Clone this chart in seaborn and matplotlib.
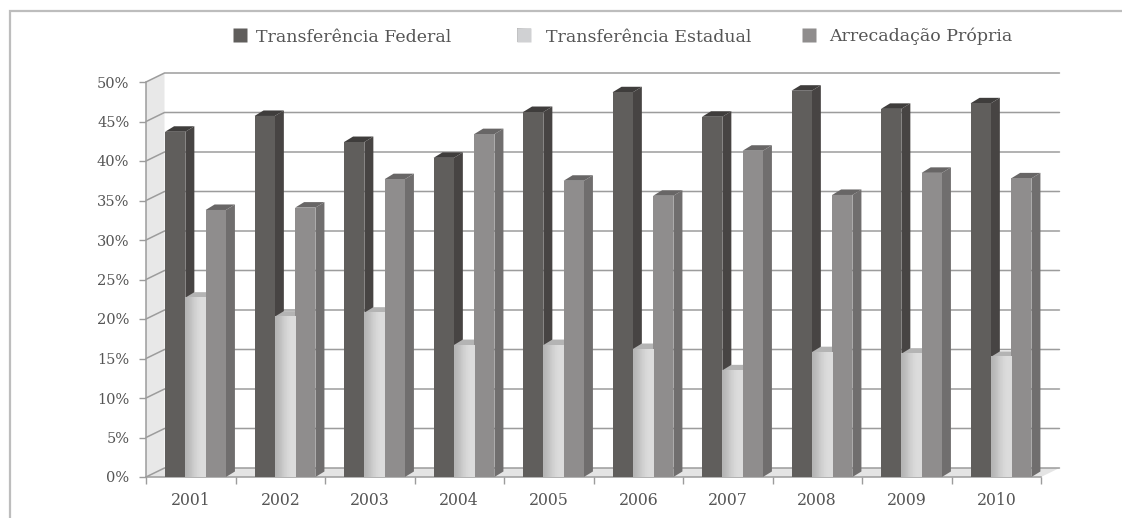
import numpy as np
import pandas as pd
import matplotlib
matplotlib.use('Agg')
import matplotlib.pyplot as plt
from matplotlib.lines import Line2D
from matplotlib.patches import Polygon
import seaborn as sns

# Values (percent)
years = ['2001', '2002', '2003', '2004', '2005', '2006', '2007', '2008', '2009', '2010']
federal = [43.7, 45.7, 42.4, 40.4, 46.2, 48.7, 45.6, 48.9, 46.6, 47.3]
estadual = [22.7, 20.3, 20.8, 16.7, 16.7, 16.2, 13.5, 15.8, 15.6, 15.2]
propria = [33.8, 34.1, 37.7, 43.4, 37.5, 35.6, 41.3, 35.7, 38.5, 37.8]
series_names = ['Transferência Federal', 'Transferência Estadual', 'Arrecadação Própria']
y_ticks = [0, 5, 10, 15, 20, 25, 30, 35, 40, 45, 50]

front_colors = ['#605e5c', '#d0d1d3', '#8f8d8d']
side_colors = ['#474443', '#8a8a8a', '#706e6e']
top_colors = ['#3f3d3c', '#b4b4b4', '#686666']
grid_color = '#9c9c9c'
text_color = '#555555'

sns.set_theme(style='white')
plt.rcParams['font.family'] = ['DejaVu Serif']

data = pd.DataFrame({'Ano': years, series_names[0]: federal,
                     series_names[1]: estadual, series_names[2]: propria})
data = data.melt(id_vars='Ano', var_name='Serie', value_name='Valor')

W, H = 1122, 518
fig = plt.figure(figsize=(W / 100, H / 100), dpi=100)
ax = fig.add_axes([146 / W, 1 - 477 / H, 895 / W, 395 / H])
ax.patch.set_alpha(0)

sns.barplot(data=data, x='Ano', y='Valor', hue='Serie', palette=front_colors,
            saturation=1, width=0.68, dodge=True, gap=0, linewidth=0, ax=ax, zorder=4)

x0 = -0.553
x1 = 9.447
ax.set_xlim(x0, x1)
ax.set_ylim(0, 50)
px = 10 / 895  # data units per pixel, x
py = 50 / 395  # data units per pixel, y

# walls and floor
wall_dx, wall_dy = 18.5 * px, 9 * py
ax.add_patch(Polygon([(x0, 0), (x0 + wall_dx, wall_dy), (x0 + wall_dx, 50 + wall_dy), (x0, 50)],
                     closed=True, fc='#e8e8e8', ec='none', clip_on=False, zorder=1))
ax.add_patch(Polygon([(x0, 0), (x1, 0), (x1 + wall_dx, wall_dy), (x0 + wall_dx, wall_dy)],
                     closed=True, fc='#e4e4e4', ec='none', clip_on=False, zorder=1))
for t in y_ticks:
    ax.plot([x0, x0 + wall_dx, x1 + wall_dx], [t, t + wall_dy, t + wall_dy], color=grid_color,
            lw=1.1, clip_on=False, zorder=2, solid_joinstyle='miter')

# depth of each bar
bar_dx, bar_dy = 9 * px, 5.5 * py
for container, side, top in zip(ax.containers, side_colors, top_colors):
    for bar in container:
        bx, w, h = bar.get_x(), bar.get_width(), bar.get_height()
        ax.add_patch(Polygon([(bx + w, 0), (bx + w + bar_dx, bar_dy), (bx + w + bar_dx, h + bar_dy), (bx + w, h)],
                             closed=True, fc=side, ec='none', clip_on=False, zorder=3))
        ax.add_patch(Polygon([(bx, h), (bx + bar_dx, h + bar_dy), (bx + w + bar_dx, h + bar_dy), (bx + w, h)],
                             closed=True, fc=top, ec='none', clip_on=False, zorder=3))

# gradient on the middle series
gradient = np.array([[0.71, 0.75, 0.80, 0.84, 0.86, 0.86]])
for bar in ax.containers[1]:
    bx, w, h = bar.get_x(), bar.get_width(), bar.get_height()
    ax.imshow(gradient, extent=(bx, bx + w, 0, h), cmap='gray', vmin=0, vmax=1,
              aspect='auto', interpolation='bilinear', zorder=5)
ax.set_xlim(x0, x1)
ax.set_ylim(0, 50)

# axes
sns.despine(ax=ax, top=True, right=True)
ax.spines['left'].set_color(grid_color)
ax.spines['bottom'].set_color(grid_color)
ax.spines['left'].set_linewidth(1.1)
ax.spines['bottom'].set_linewidth(1.1)
ax.set_xlabel('')
ax.set_ylabel('')
ax.set_xticks([i - 0.053 for i in range(10)], years)
ax.set_xticks([x0 + i for i in range(11)], minor=True)
ax.tick_params(axis='x', which='major', length=0, pad=10.5, labelsize=11.3, labelcolor=text_color)
ax.tick_params(axis='x', which='minor', length=5, width=1, color=grid_color, bottom=True)
ax.set_yticks(y_ticks, [f'{t}%' for t in y_ticks])
ax.tick_params(axis='y', length=5, width=1, color=grid_color, pad=7, labelsize=10.5,
               labelcolor=text_color, left=True)

# legend, one entry at a time because the gaps differ
if ax.get_legend() is not None:
    ax.get_legend().remove()
legend_x = [231.5, 515, 800]
legend_y = [37, 37, 36]
legend_pad = [0.4, 0.8, 0.69]
for name, color, lx, ly, pad in zip(series_names, front_colors, legend_x, legend_y, legend_pad):
    handle = Line2D([], [], ls='none', marker='s', ms=10, mfc=color, mec='none')
    fig.legend([handle], [name], frameon=False, loc='center left', bbox_to_anchor=(lx / W, 1 - ly / H),
               fontsize=12.5, labelcolor=text_color, handlelength=1, handletextpad=pad,
               borderpad=0, borderaxespad=0)

key_ax = fig.add_axes([517 / W, 1 - 42.5 / H, 14 / W, 15 / H])
key_ax.imshow(gradient, cmap='gray', vmin=0, vmax=1, aspect='auto', interpolation='bilinear')
key_ax.axis('off')

# chart frame, top and left only
fig.add_artist(Line2D([10 / W, 10 / W, 1], [0, 1 - 11 / H, 1 - 11 / H], transform=fig.transFigure,
                      color='#bdbdbd', lw=1.6, solid_joinstyle='miter'))

fig.savefig('out.png', dpi=100)
